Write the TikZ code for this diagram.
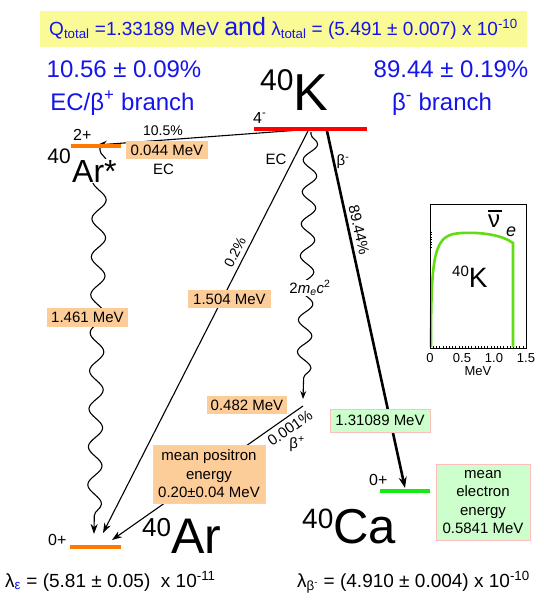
\documentclass[tikz,border=0pt]{standalone}
\usepackage{fontspec}
\setmainfont{Liberation Sans}
\usetikzlibrary{arrows.meta,decorations.pathmorphing}
\definecolor{tblue}{RGB}{20,20,235}
\definecolor{ybox}{RGB}{250,250,150}
\definecolor{peachc}{RGB}{252,204,153}
\definecolor{gboxc}{RGB}{204,255,204}
\definecolor{pinkc}{RGB}{255,190,190}
\definecolor{lgreenc}{RGB}{190,240,160}
\definecolor{orbar}{RGB}{255,120,0}
\definecolor{grbar}{RGB}{20,235,20}
\definecolor{curvec}{RGB}{100,220,20}
\newcommand{\fs}[1]{\fontsize{#1}{#1}\selectfont}
\begin{document}
\begin{tikzpicture}[x=1pt,y=-1pt,
  lbl/.style={inner sep=0pt,font=\fs{15}},
  bluetxt/.style={inner sep=0pt,text=tblue,font=\fs{24}},
  ebox/.style={fill=peachc,inner sep=0pt,font=\fs{15}},
  gbox/.style={fill=gboxc,draw=pinkc,line width=1pt,inner sep=0pt,font=\fs{15}},
  thinarr/.style={line width=1.1pt,-{Stealth[length=10pt,width=7pt]}},
  thickarr/.style={line width=2.6pt,-{Stealth[length=11pt,width=8pt]}},
  wavy/.style={line width=1.1pt,decorate,decoration={snake,segment length=38pt,amplitude=7pt,post length=7pt,pre length=2pt}},
  levelbar/.style={line width=4pt}]
\useasboundingbox (0,0) rectangle (544,603);

% header
\node[fill=ybox,minimum width=487pt,minimum height=36pt,inner sep=0pt] (qbox) at (283.5,29) {};
\node[anchor=base,inner sep=0pt,text=tblue,font=\fs{19}] (qtxt) at (283.5,35)
  {Q\textsubscript{total} =1.33189 MeV {\fs{25}and} λ\textsubscript{total} = (5.491 ± 0.007) x 10\textsuperscript{-10}};
\node[bluetxt,anchor=base] (brL1) at (124,77) {10.56 ± 0.09\%};
\node[bluetxt,anchor=base] (brL2) at (122.5,110) {EC/β\textsuperscript{+} branch};
\node[bluetxt,anchor=base] (brR1) at (451,77) {89.44 ± 0.19\%};
\node[bluetxt,anchor=base] (brR2) at (442,110) {β\textsuperscript{-} branch};

% K level
\node[inner sep=0pt,anchor=base west] (Klab) at (260,110) {\raisebox{19.5pt}{\fs{30}40}\fs{52}K};
\node[lbl,anchor=base west,font=\fs{16}] (Kspin) at (253,123) {4\textsuperscript{-}};
\coordinate (kL) at (254,129);
\coordinate (kR) at (367,129);

% Ar* level
\coordinate (asL) at (71,146);
\coordinate (asR) at (121,146);
\node[lbl,anchor=base west,font=\fs{16}] (asSpin) at (73,140) {2+};

% Ar level
\coordinate (arL) at (70,546.5);
\coordinate (arR) at (121,546.5);
\node[lbl,anchor=base west,font=\fs{16}] (arSpin) at (48,545) {0+};
\node[inner sep=0pt,anchor=base west] (Arlab) at (142,553) {\raisebox{17pt}{\fs{26}40}\fs{50}Ar};

% Ca level
\coordinate (caL) at (380,491);
\coordinate (caR) at (430,491);
\node[lbl,anchor=base west,font=\fs{16}] (caSpin) at (369,485) {0+};
\node[inner sep=0pt,anchor=base west] (Calab) at (302,543) {\raisebox{15pt}{\fs{28}40}\fs{49}Ca};

% transitions (lines first)
\coordinate (t1s) at (300,130);
\coordinate (t1e) at (97,145);
\draw[thinarr] (t1s) -- (t1e);
\coordinate (w1s) at (100,148);
\coordinate (w1e) at (94,534);
\draw[wavy,-{Stealth[length=10pt,width=7pt]}] (w1s) -- (w1e);
\coordinate (ecs) at (308,131);
\coordinate (ece) at (103,533);
\draw[thinarr] (ecs) -- (ece);
\coordinate (w2s) at (311,132);
\coordinate (w2e) at (303,399);
\draw[wavy,decoration={snake,segment length=32pt,amplitude=7pt,post length=7pt,pre length=2pt},-{Stealth[length=8pt,width=6pt]}] (w2s) -- (w2e);
\coordinate (bps) at (303,406);
\coordinate (bpe) at (112,540);
\draw[thinarr] (bps) -- (bpe);
\coordinate (bms) at (327,131);
\coordinate (bme) at (405,488);
\draw[thickarr] (bms) -- (bme);

% level bars
\draw[levelbar,red] (kL) -- (kR);
\draw[levelbar,orbar] (asL) -- (asR);
\draw[levelbar,orbar] (arL) -- (arR);
\draw[levelbar,grbar] (caL) -- (caR);

% labels on transitions
\node[lbl,font=\fs{14}] (p105) at (163,130.5) {10.5\%};
\node[ebox,minimum width=82pt,minimum height=18pt] (e044) at (167,150) {0.044 MeV};
\node[lbl] (ec1) at (163.5,169) {EC};
\node[inner sep=1pt,fill=white,anchor=base west,font=\fs{32}] (arstar) at (71,182) {Ar*};
\node[inner sep=0pt,anchor=base east,font=\fs{21}] (ar40s) at (71,163) {40};
\node[ebox,minimum width=81pt,minimum height=19pt] (e1461) at (87.5,317.5) {1.461 MeV};
\node[lbl] (ec2) at (276,159) {EC};
\node[lbl,font=\fs{14},rotate=63] (p02) at (235,252) {0.2\%};
\node[ebox,minimum width=83pt,minimum height=18pt] (e1504) at (229.5,299) {1.504 MeV};
\node[fill=white,inner sep=1pt,font=\fs{15}] (mec) at (310,288) {2\textit{m}\textsubscript{\textit{e}}\textit{c}\textsuperscript{2}};
\node[ebox,minimum width=80pt,minimum height=18pt] (e0482) at (247,405) {0.482 MeV};
\node[lbl,rotate=35] (p0001) at (290,428) {0.001\%};
\node[lbl] (bplus) at (297,444) {β\textsuperscript{+}};
\node[fill=peachc,draw=lgreenc,line width=1pt,inner sep=0pt,minimum width=112pt,minimum height=58pt,
  align=center,font=\fontsize{15}{18.5}\selectfont] (posbox) at (209,474) {mean positron\\energy\\0.20±0.04 MeV};
\node[lbl] (bminus) at (343,162) {β\textsuperscript{-}};
\node[lbl,rotate=-77.6] (p8944) at (359,230) {89.44\%};
\node[gbox,minimum width=100pt,minimum height=23pt] (e131) at (380,420.5) {1.31089 MeV};
\node[gbox,minimum width=94pt,minimum height=76pt,align=center,font=\fontsize{15}{18.3}\selectfont] (elbox) at (483,502) {mean\\electron\\energy\\0.5841 MeV};

% decay constants
\node[inner sep=0pt,anchor=base west,font=\fs{19}] (lamE) at (5,587)
  {λ\textsubscript{\textcolor{tblue}{ε}} = (5.81 ± 0.05)\ \ x 10\textsuperscript{-11}};
\node[inner sep=0pt,anchor=base west,font=\fs{19}] (lamB) at (297,587)
  {λ\textsubscript{β\textsuperscript{-}} = (4.910 ± 0.004) x 10\textsuperscript{-10}};

% inset spectrum
\coordinate (iTL) at (430,204);
\coordinate (iBR) at (526,348);
\foreach \i in {0,...,30} \draw[line width=0.5pt] (430+3.2*\i,348) -- ++(0,-2.5);
\foreach \i in {0,...,6} \draw[line width=0.5pt] (430,232+2.5*\i) -- ++(2,0);
\draw[curvec,line width=2.6pt] (431,347) .. controls (431,250) and (434,234) .. (462,233)
  .. controls (482,232) and (502,235) .. (513,243) -- (513,347);
\draw[line width=1pt] (iTL) rectangle (iBR);
\node[inner sep=0pt,anchor=base,font=\fs{13}] (ax0) at (430,362) {0};
\node[inner sep=0pt,anchor=base,font=\fs{13}] (ax1) at (462,362) {0.5};
\node[inner sep=0pt,anchor=base,font=\fs{13}] (ax2) at (494,362) {1.0};
\node[inner sep=0pt,anchor=base,font=\fs{13}] (ax3) at (526,362) {1.5};
\node[inner sep=0pt,anchor=base,font=\fs{13}] (axl) at (478,375) {MeV};
\node[inner sep=0pt,anchor=base west,font=\fs{24}] (nubar) at (488,227) {\rlap{\raisebox{15pt}{\rule{14pt}{1.6pt}}}ν};
\node[inner sep=0pt,anchor=base west,font=\fs{18}] (nue) at (506,236) {\textit{e}};
\node[inner sep=0pt,anchor=base west] (iK) at (452,287) {\raisebox{11pt}{\fs{15}40}\fs{28}K};
\end{tikzpicture}
\end{document}
